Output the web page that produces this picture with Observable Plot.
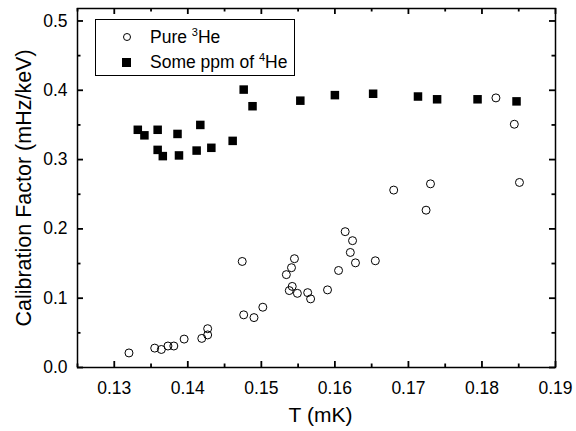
<!DOCTYPE html>
<html>
<head>
<meta charset="utf-8">
<script src="https://cdn.jsdelivr.net/npm/d3@7"></script>
<script src="https://cdn.jsdelivr.net/npm/@observablehq/plot@0.6"></script>
<style>
  html, body { margin: 0; padding: 0; background: #fff; }
  #wrap { position: relative; width: 576px; height: 431px; font-family: "Liberation Sans", Arial, sans-serif; }
  #legend { position: absolute; left: 95px; top: 19px; width: 200px; height: 57px; box-sizing: border-box;
            border: 1px solid #000; background: #fff; font-size: 17.5px; color: #000; }
  .row { position: absolute; left: 0; height: 22px; line-height: 22px; white-space: nowrap; }
  .sym { position: absolute; box-sizing: border-box; }
  .txt { position: absolute; left: 54px; top: 0; }
  .txt sup { font-size: 11px; vertical-align: 7px; line-height: 0; }
</style>
</head>
<body>
<div id="wrap"></div>
<script>
// Series: Pure 3He (open circles)
const pureT = [0.1320, 0.1355, 0.1364, 0.1373, 0.1381, 0.1395, 0.1419, 0.1427, 0.1427, 0.1474,
               0.1476, 0.1490, 0.1502, 0.1534, 0.1541, 0.1545, 0.1542, 0.1538, 0.1549, 0.1563,
               0.1567, 0.1590, 0.1605, 0.1614, 0.1624, 0.1621, 0.1628, 0.1655, 0.1680, 0.1724,
               0.1730, 0.1819, 0.1844, 0.1851];
const pureV = [0.021, 0.028, 0.026, 0.031, 0.031, 0.041, 0.042, 0.047, 0.056, 0.153,
               0.076, 0.072, 0.087, 0.134, 0.144, 0.157, 0.117, 0.111, 0.107, 0.108,
               0.099, 0.112, 0.140, 0.196, 0.183, 0.166, 0.151, 0.154, 0.256, 0.227,
               0.265, 0.389, 0.351, 0.267];
// Series: Some ppm of 4He (filled squares)
const ppmT = [0.1332, 0.1341, 0.1359, 0.1359, 0.1366, 0.1386, 0.1388, 0.1412, 0.1417, 0.1432,
              0.1461, 0.1476, 0.1488, 0.1553, 0.1600, 0.1652, 0.1713, 0.1739, 0.1794, 0.1847];
const ppmV = [0.343, 0.335, 0.343, 0.314, 0.305, 0.337, 0.306, 0.313, 0.350, 0.317,
              0.327, 0.401, 0.377, 0.385, 0.393, 0.395, 0.391, 0.387, 0.387, 0.384];

// Ticks
const xTicks = [0.13, 0.14, 0.15, 0.16, 0.17, 0.18, 0.19];
const xMinor = [0.125, 0.135, 0.145, 0.155, 0.165, 0.175, 0.185];
const yTicks = [0.0, 0.1, 0.2, 0.3, 0.4, 0.5];
const yMinor = [0.05, 0.15, 0.25, 0.35, 0.45];
const xLabel = "T (mK)";
const yLabel = "Calibration Factor (mHz/keV)";
const legendLabels = ["Pure <sup>3</sup>He", "Some ppm of <sup>4</sup>He"];

const pure = pureT.map((t, i) => ({t, v: pureV[i]}));
const ppm = ppmT.map((t, i) => ({t, v: ppmV[i]}));

const font = "Liberation Sans, Arial, sans-serif";
const W = 576, H = 431, mL = 77, mR = 21, mT = 8, mB = 64;
const innerW = W - mL - mR, innerH = H - mT - mB;

// inward ticks on all four sides
function inTicksX(ticks, len) {
  return [
    Plot.tickX(ticks, {x: d => d, insetTop: innerH - len, stroke: "#000", strokeWidth: 1.8}),
    Plot.tickX(ticks, {x: d => d, insetBottom: innerH - len, stroke: "#000", strokeWidth: 1.8})
  ];
}
function inTicksY(ticks, len) {
  return [
    Plot.tickY(ticks, {y: d => d, insetRight: innerW - len, stroke: "#000", strokeWidth: 1.8}),
    Plot.tickY(ticks, {y: d => d, insetLeft: innerW - len, stroke: "#000", strokeWidth: 1.8})
  ];
}

const chart = Plot.plot({
  width: W, height: H,
  marginLeft: mL, marginRight: mR, marginTop: mT, marginBottom: mB,
  style: { fontFamily: font, background: "#fff", color: "#000" },
  x: { domain: [0.125, 0.19] },
  y: { domain: [0, 0.518] },
  marks: [
    Plot.frame({stroke: "#000", strokeWidth: 1.5, fill: "none"}),
    Plot.axisX({ticks: xTicks, tickSize: 0, tickPadding: 14, tickFormat: d3.format(".2f"), fontSize: 17.5, label: null}),
    Plot.axisY({ticks: yTicks, tickSize: 0, tickPadding: 10, tickFormat: d3.format(".1f"), fontSize: 17.5, label: null}),
    ...inTicksX(xTicks, 6),
    ...inTicksX(xMinor, 3.5),
    ...inTicksY(yTicks, 6),
    ...inTicksY(yMinor, 3.5),
    Plot.text([xLabel], {frameAnchor: "bottom", textAnchor: "middle", lineAnchor: "middle", dx: 4, dy: 48, fontSize: 21, fill: "#000"}),
    Plot.text([yLabel], {frameAnchor: "left", textAnchor: "middle", lineAnchor: "middle", dx: -53, rotate: -90, fontSize: 21.5, fill: "#000"}),
    Plot.dot(pure, {x: "t", y: "v", r: 4, stroke: "#000", strokeWidth: 1, fill: "none", symbol: "circle"}),
    Plot.dot(ppm, {x: "t", y: "v", r: 4.8, fill: "#000", stroke: "none", symbol: "square"})
  ]
});

const wrap = document.getElementById("wrap");
wrap.appendChild(chart);

// Legend (HTML overlay)
const legend = document.createElement("div");
legend.id = "legend";
legend.innerHTML = `
  <div class="row" style="top:6px;width:100%">
    <span class="sym" style="left:27px;top:7px;width:8px;height:8px;border:1px solid #000;border-radius:50%"></span>
    <span class="txt">${legendLabels[0]}</span>
  </div>
  <div class="row" style="top:31px;width:100%">
    <span class="sym" style="left:26px;top:7px;width:9px;height:9px;background:#000"></span>
    <span class="txt">${legendLabels[1]}</span>
  </div>`;
wrap.appendChild(legend);
</script>
</body>
</html>
